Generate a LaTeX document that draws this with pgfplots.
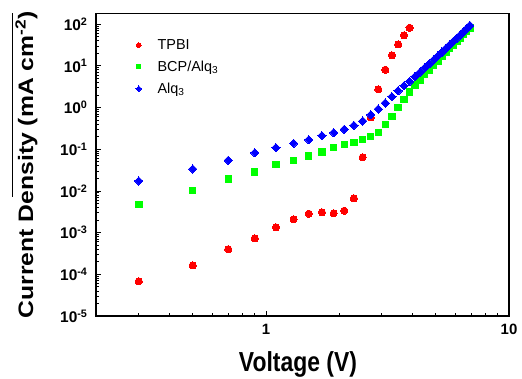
\documentclass[border=0pt]{standalone}
\usepackage{pgfplots}
\pgfplotsset{compat=1.18}
\usepackage{fontspec}
\setmainfont{Liberation Sans}
\usepackage{graphicx}

\pgfplotstableread{
x y
0.3 6.8e-5
0.5 1.64e-4
0.7 4.0e-4
0.9 7.3e-4
1.1 1.34e-3
1.3 2.08e-3
1.5 2.84e-3
1.7 3.07e-3
1.9 2.9e-3
2.1 3.35e-3
2.3 6.65e-3
2.5 0.064
2.7 0.58
2.9 2.73
3.1 8.07
3.3 17.9
3.5 32.8
3.7 54
3.9 82
}\tpbi

\pgfplotstableread{
x y
0.3 4.67e-3
0.5 0.0101
0.7 0.0193
0.9 0.0284
1.1 0.0425
1.3 0.054
1.5 0.0687
1.7 0.0857
1.9 0.111
2.1 0.128
2.3 0.146
2.5 0.173
2.7 0.204
2.9 0.249
3.1 0.395
3.3 0.615
3.5 0.99
3.7 1.57
3.9 2.36
4.1 3.47
4.3 4.62
4.5 6.15
4.7 8.0
4.9 10.4
5.1 13.1
5.3 16.5
5.5 20.7
5.7 25.8
5.9 31.5
6.1 38.3
6.3 46.2
6.5 55.7
6.7 67.1
6.9 80.9
}\bcp

\pgfplotstableread{
x y
0.3 0.0173
0.5 0.0335
0.7 0.054
0.9 0.082
1.1 0.109
1.3 0.138
1.5 0.169
1.7 0.211
1.9 0.249
2.1 0.30
2.3 0.374
2.5 0.474
2.7 0.67
2.9 0.92
3.1 1.28
3.3 1.82
3.5 2.53
3.7 3.33
3.9 4.25
4.1 5.5
4.3 7.0
4.5 8.9
4.7 11.2
4.9 14.0
5.1 17.3
5.3 21.3
5.5 26
5.7 31.7
5.9 38.3
6.1 46
6.3 55
6.5 65.5
6.7 78
6.9 93
}\alq

\begin{document}
\begin{tikzpicture}
\begin{axis}[
  name=ax,
  xmode=log, ymode=log,
  scale only axis, width=413bp, height=302.5bp,
  xmin=0.2, xmax=10, ymin=1e-5, ymax=180,
  tick pos=left, tick align=inside,
  major tick length=5bp, minor tick length=3bp,
  axis line style={line width=1.1bp},
  every tick/.style={black, line width=0.8bp},
  xtick={1,10}, xticklabels={1,10},
  minor xtick={0.3,0.4,0.5,0.6,0.7,0.8,0.9,2,3,4,5,6,7,8,9},
  ytick={1e-5,1e-4,1e-3,1e-2,1e-1,1,10,100},
  yticklabels={10\textsuperscript{-5},10\textsuperscript{-4},10\textsuperscript{-3},10\textsuperscript{-2},10\textsuperscript{-1},10\textsuperscript{0},10\textsuperscript{1},10\textsuperscript{2}},
  minor ytick={2e-5,3e-5,4e-5,5e-5,6e-5,7e-5,8e-5,9e-5,
    2e-4,3e-4,4e-4,5e-4,6e-4,7e-4,8e-4,9e-4,
    2e-3,3e-3,4e-3,5e-3,6e-3,7e-3,8e-3,9e-3,
    2e-2,3e-2,4e-2,5e-2,6e-2,7e-2,8e-2,9e-2,
    0.2,0.3,0.4,0.5,0.6,0.7,0.8,0.9,
    2,3,4,5,6,7,8,9,20,30,40,50,60,70,80,90},
  xticklabel style={font=\fontsize{15}{15}\selectfont\bfseries, yshift=-5bp},
  yticklabel style={font=\fontsize{15.5}{15.5}\selectfont\bfseries, xshift=-5bp},
  xlabel={\scalebox{1}[1.2]{Voltage (V)}},
  xlabel style={font=\fontsize{23}{26}\selectfont\bfseries, at={(axis description cs:0.489,-0.184)}, anchor=base},
  ylabel={\scalebox{1.18}[1]{Current Density (mA cm\textsuperscript{-2})}},
  ylabel style={font=\fontsize{21}{24}\selectfont\bfseries, at={(axis description cs:-0.1525,0.5)}, anchor=base},
  legend style={at={(axis description cs:0.089,0.928)}, anchor=north west, draw=none, fill=none,
    font=\fontsize{14.5}{16}\selectfont, row sep=6bp, column sep=14bp},
  legend cell align=left,
]
\addplot[only marks, mark=*, mark size=3.6bp, mark options={draw=red, fill=red, line width=0pt},
  legend image post style={mark size=2.3bp}] table {\tpbi};
\addlegendentry{TPBI}
\addplot[only marks, mark=square*, mark size=3.2bp, mark options={draw=green, fill=green, line width=0pt},
  legend image post style={mark size=2bp}] table {\bcp};
\addlegendentry{BCP/Alq\textsubscript{3}}
\addplot[only marks, mark=square*, mark size=2.95bp, mark options={draw=blue, fill=blue, line width=0pt, rotate=45},
  legend image post style={mark size=2bp}] table {\alq};
\addlegendentry{Alq\textsubscript{3}}
\end{axis}
\draw[line width=0.8bp] ([xshift=-84bp]ax.north west) -- ([xshift=-84bp, yshift=-183.5bp]ax.north west);
\pgfresetboundingbox
\path[use as bounding box] ([xshift=-96bp,yshift=-63bp]ax.south west) rectangle ([xshift=13bp,yshift=13.5bp]ax.north east);
\end{tikzpicture}
\end{document}
